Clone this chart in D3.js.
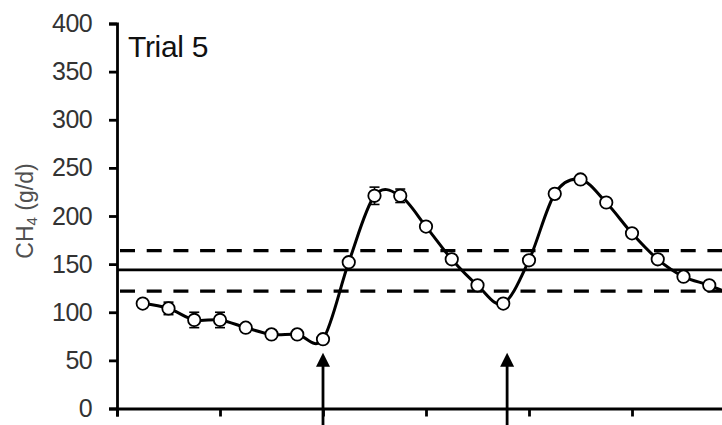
<!DOCTYPE html>
<html><head><meta charset="utf-8">
<script src="https://cdn.jsdelivr.net/npm/d3@7"></script>
<style>body{margin:0;background:#fff}svg{display:block}</style>
</head><body>
<script>
// ---- data ----
const days = [1,2,3,4,5,6,7,8,9,10,11,12,13,14,15,16,17,18,19,20,21,22,23,24];
const ch4  = [109,104,92,92,84,77,77,72,152,221,221,189,155,128,109,154,223,238,214,182,155,137,128,117];
const sem  = [3,6.5,8,8,3,3,3,3,3,9,7,3,3,3,3,3,3,3,3,3,3,3,3,3];
const yTicks = [0,50,100,150,200,250,300,350,400];
const xTicks = [0,4,8,12,16,20,24,28];
const meanLine = 144;
const bandLines = [164,122];
const arrowsAt = [8,15.15];
const trialLabel = "Trial 5";

// ---- layout ----
const W = 722, H = 425;
const svg = d3.select("body").append("svg").attr("width",W).attr("height",H)
  .style("font-family","'Liberation Sans', Arial, sans-serif");

const x = d3.scaleLinear().domain([0,28]).range([117,117+28*25.75]);
const y = d3.scaleLinear().domain([0,400]).range([408.5,23.5]);

// y axis
const yAx = svg.append("g").attr("transform",`translate(${x(0)},0)`)
  .call(d3.axisLeft(y).tickValues(yTicks).tickSize(8).tickPadding(17).tickFormat(d3.format("d")));
yAx.select(".domain").attr("stroke","#000").attr("stroke-width",2.8);
yAx.selectAll(".tick line").attr("stroke","#000").attr("stroke-width",2.8);
yAx.selectAll(".tick text").attr("font-size",25).attr("fill","#333")
  .attr("letter-spacing","-0.6px").attr("font-family","'Liberation Sans', Arial, sans-serif");

// x axis
const xAx = svg.append("g").attr("transform",`translate(0,${y(0)})`)
  .call(d3.axisBottom(x).tickValues(xTicks).tickSize(8).tickFormat(""));
xAx.select(".domain").attr("stroke","#000").attr("stroke-width",2.8);
xAx.selectAll(".tick line").attr("stroke","#000").attr("stroke-width",2.8);

// y title
const yt = svg.append("text")
  .attr("transform",`translate(33,211) rotate(-90)`)
  .attr("text-anchor","middle").attr("font-size",23).attr("fill","#505050");
yt.append("tspan").text("CH");
yt.append("tspan").attr("font-size",15).attr("dy",4).text("4");
yt.append("tspan").attr("dy",-4).text(" (g/d)");

// trial label
svg.append("text").attr("x",128).attr("y",57).attr("font-size",30)
  .attr("letter-spacing","-0.3px").attr("fill","#111").text(trialLabel);

// reference lines
svg.append("line").attr("x1",x(0)).attr("x2",W).attr("y1",y(meanLine)).attr("y2",y(meanLine))
  .attr("stroke","#000").attr("stroke-width",2.8);
svg.selectAll(".band").data(bandLines).join("line")
  .attr("x1",x(0)+3).attr("x2",W).attr("y1",d=>y(d)).attr("y2",d=>y(d))
  .attr("stroke","#000").attr("stroke-width",3.2).attr("stroke-dasharray","15 11.7");

// arrows
const arrowTip = 58, arrowBase = -20;
arrowsAt.forEach(a=>{
  const ax = x(a);
  svg.append("line").attr("x1",ax).attr("x2",ax).attr("y1",y(arrowBase)).attr("y2",y(arrowTip)+10)
    .attr("stroke","#000").attr("stroke-width",2.8);
  svg.append("path").attr("d",`M${ax},${y(arrowTip)} L${ax-7},${y(arrowTip)+14} L${ax+7},${y(arrowTip)+14} Z`)
    .attr("fill","#000");
});

const pts = days.map((d,i)=>({d, v:ch4[i], e:sem[i]}));

// error bars
const eb = svg.append("g").attr("stroke","#000").attr("stroke-width",1.6);
pts.forEach(p=>{
  eb.append("line").attr("x1",x(p.d)).attr("x2",x(p.d)).attr("y1",y(p.v-p.e)).attr("y2",y(p.v+p.e));
  [p.v-p.e,p.v+p.e].forEach(v=>eb.append("line").attr("x1",x(p.d)-5).attr("x2",x(p.d)+5).attr("y1",y(v)).attr("y2",y(v)));
});

// line
svg.append("path").datum(pts)
  .attr("d",d3.line().x(p=>x(p.d)).y(p=>y(p.v)).curve(d3.curveCatmullRom.alpha(0)))
  .attr("fill","none").attr("stroke","#000").attr("stroke-width",3);

// markers
svg.selectAll(".pt").data(pts).join("circle")
  .attr("cx",p=>x(p.d)).attr("cy",p=>y(p.v)).attr("r",6.2)
  .attr("fill","#fff").attr("stroke","#000").attr("stroke-width",1.8);
</script>
</body></html>
